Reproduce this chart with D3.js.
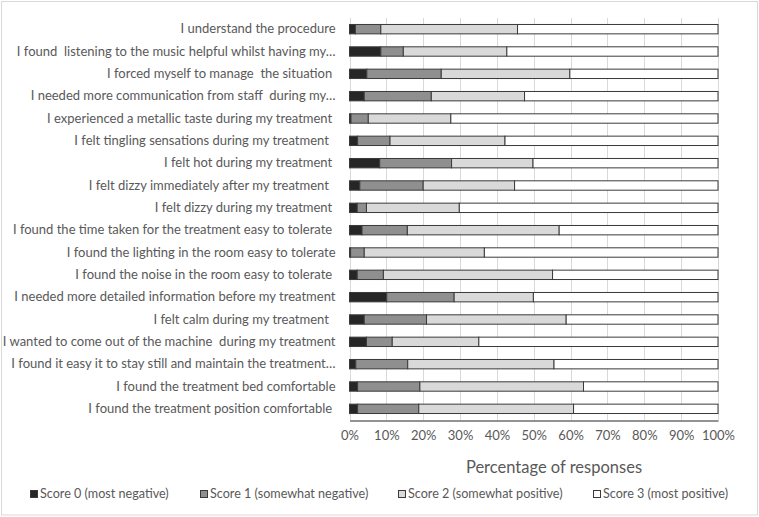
<!DOCTYPE html>
<html>
<head>
<meta charset="utf-8">
<script src="https://cdn.jsdelivr.net/npm/d3@7"></script>
<style>
  html, body { margin: 0; padding: 0; background: #fff; }
  svg { display: block; }
  text { font-family: Lato, "Open Sans", sans-serif; white-space: pre; }
</style>
</head>
<body>
<svg id="chart" width="759" height="517"></svg>
<script>
// ---- data ----
const categories = [
  "I understand the procedure",
  "I found  listening to the music helpful whilst having my…",
  "I forced myself to manage  the situation ",
  "I needed more communication from staff  during my…",
  "I experienced a metallic taste during my treatment ",
  "I felt tingling sensations during my treatment  ",
  "I felt hot during my treatment ",
  "I felt dizzy immediately after my treatment  ",
  "I felt dizzy during my treatment ",
  "I found the time taken for the treatment easy to tolerate ",
  "I found the lighting in the room easy to tolerate",
  "I found the noise in the room easy to tolerate ",
  "I needed more detailed information before my treatment",
  "I felt calm during my treatment  ",
  "I wanted to come out of the machine  during my treatment",
  "I found it easy it to stay still and maintain the treatment…",
  "I found the treatment bed comfortable",
  "I found the treatment position comfortable "
];
const seriesNames = [
  "Score 0 (most negative)",
  "Score 1 (somewhat negative)",
  "Score 2 (somewhat positive)",
  "Score 3 (most positive)"
];
const score0 = [1.6, 8.5, 4.7, 4.0, 0.4, 2.2, 8.2, 2.8, 2.1, 3.4, 0.3, 2.1, 10.1, 4.0, 4.6, 1.7, 2.2, 2.2];
const score1 = [6.9, 6.1, 20.2, 18.2, 4.7, 8.8, 19.5, 17.2, 2.5, 12.3, 3.7, 7.1, 18.3, 16.9, 7.0, 14.1, 16.9, 16.6];
const score2 = [37.1, 28.1, 34.9, 25.3, 22.4, 31.2, 22.1, 24.8, 25.2, 41.2, 32.6, 45.9, 21.5, 37.9, 23.5, 39.7, 44.4, 42.0];
const score3 = [54.4, 57.3, 40.2, 52.5, 72.5, 57.8, 50.2, 55.2, 70.2, 43.1, 63.4, 44.9, 50.1, 41.2, 64.9, 44.5, 36.5, 39.2];
const tickValues = [0, 10, 20, 30, 40, 50, 60, 70, 80, 90, 100];
const xTitle = "Percentage of responses";
const colors = ["#262626", "#8f8f8f", "#d9d9d9", "#ffffff"];

// ---- build ----
const svg = d3.select("#chart");
const W = 759, H = 517;
const plot = { left: 349.5, right: 718, top: 18, bottom: 420 };

svg.append("rect")
  .attr("x", 1.5).attr("y", 1.5).attr("width", W - 3).attr("height", H - 3.5)
  .attr("fill", "#fff").attr("stroke", "#d9d9d9").attr("stroke-width", 1);

const x = d3.scaleLinear().domain([0, 100]).range([plot.left, plot.right]);
const y = d3.scaleBand().domain(categories).range([plot.top, plot.bottom])
  .paddingInner(0.58).paddingOuter(0.29);

// gridlines
svg.append("g").selectAll("line").data(tickValues).join("line")
  .attr("x1", d => Math.round(x(d)) + 0.5).attr("x2", d => Math.round(x(d)) + 0.5)
  .attr("y1", plot.top).attr("y2", plot.bottom)
  .attr("stroke", "#d9d9d9").attr("stroke-width", 1);

// stacked data
const rows = categories.map((c, i) => ({ cat: c, s0: score0[i], s1: score1[i], s2: score2[i], s3: score3[i] }));
const stack = d3.stack().keys(["s0", "s1", "s2", "s3"]).offset(d3.stackOffsetExpand);
const layers = stack(rows);

svg.append("g").selectAll("g").data(layers).join("g")
  .attr("fill", (d, i) => colors[i])
  .selectAll("rect").data(d => d).join("rect")
  .attr("x", d => x(d[0] * 100))
  .attr("width", d => x(d[1] * 100) - x(d[0] * 100))
  .attr("y", d => y(d.data.cat))
  .attr("height", y.bandwidth())
  .attr("stroke", "#3a3a3a").attr("stroke-width", 1);

// bottom axis
const xAxis = d3.axisBottom(x).tickValues(tickValues).tickFormat(d => d + "%").tickSize(0).tickPadding(10);
const gx = svg.append("g").attr("transform", `translate(0,${plot.bottom + 0.5})`).call(xAxis);
gx.select(".domain").attr("stroke", "#262626").attr("stroke-width", 1);
gx.selectAll("text").attr("fill", "#595959").style("font-size", "13px")
  .style("font-family", "Lato, 'Open Sans', sans-serif");

// y axis labels
const yAxis = d3.axisLeft(y).tickSize(0).tickPadding(14);
const gy = svg.append("g").attr("transform", `translate(${plot.left},0)`).call(yAxis);
gy.select(".domain").remove();
gy.selectAll("text").attr("fill", "#595959").style("font-size", "13px")
  .style("font-family", "Lato, 'Open Sans', sans-serif")
  .attr("xml:space", "preserve");

// x title
svg.append("text").attr("x", 554).attr("y", 473).attr("text-anchor", "middle")
  .attr("fill", "#595959").style("font-size", "16.5px").text(xTitle);

// legend
const legendX = [30, 200, 398, 593];
const lg = svg.append("g").selectAll("g").data(seriesNames).join("g")
  .attr("transform", (d, i) => `translate(${legendX[i]},490)`);
lg.append("rect").attr("x", 0.5).attr("y", 0.5).attr("width", 7).attr("height", 7)
  .attr("fill", (d, i) => colors[i]).attr("stroke", "#3a3a3a").attr("stroke-width", 1);
lg.append("text").attr("x", 10).attr("y", 4).attr("dy", "0.35em")
  .attr("fill", "#595959").style("font-size", "12.6px").text(d => d);
</script>
</body>
</html>
